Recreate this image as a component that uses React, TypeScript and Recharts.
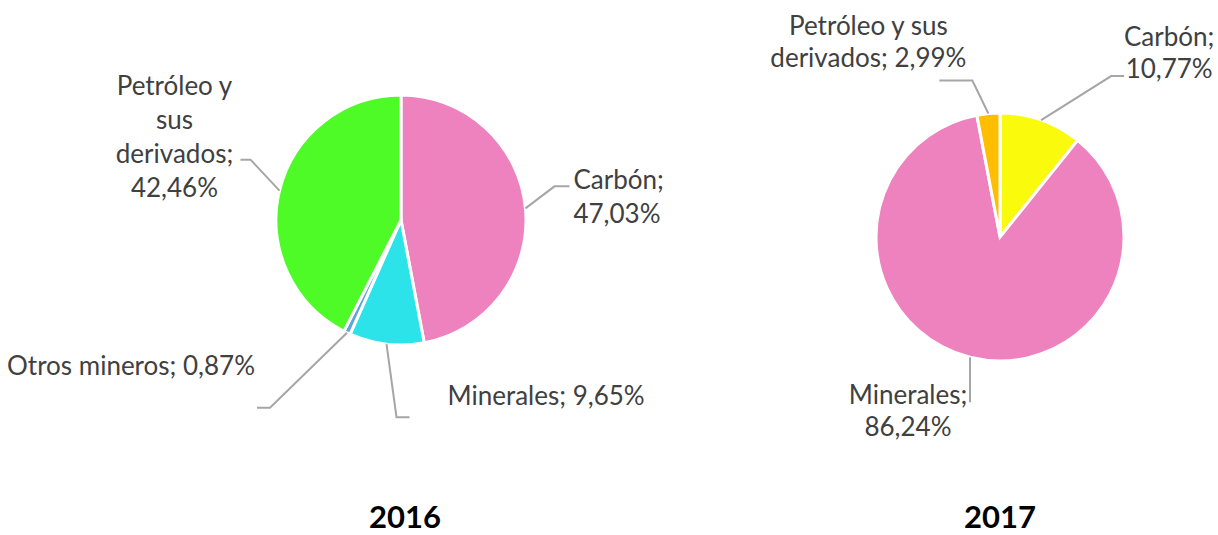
import { PieChart, Pie, Cell } from "recharts";

const categories2016 = ["Carbón", "Minerales", "Otros mineros", "Petróleo y sus derivados"];
const shares2016 = [47.03, 9.65, 0.87, 42.46];
const colors2016 = ["#EE82BE", "#2CE3E9", "#5BA6DC", "#4EFB27"];

const categories2017 = ["Carbón", "Minerales", "Petróleo y sus derivados"];
const shares2017 = [10.77, 86.24, 2.99];
const colors2017 = ["#FAFA0C", "#EE82BE", "#FFBF00"];

const years = ["2016", "2017"];

const data2016 = categories2016.map((name, i) => ({ name, value: shares2016[i] }));
const data2017 = categories2017.map((name, i) => ({ name, value: shares2017[i] }));

type Callout = {
    bend: [number, number];
    tail: number;
    tx: number;
    ty: number;
    anchor: "start" | "middle" | "end";
    lines: (n: string, p: string) => string[];
};

// where each label sits relative to the point on the slice edge
const callouts2016: Record<string, Callout> = {
    "Carbón": { bend: [29, -22], tail: 15, tx: 4, ty: -7, anchor: "start", lines: (n, p) => [n + ";", p] },
    "Minerales": { bend: [10, 73], tail: 13, tx: 38, ty: -22, anchor: "start", lines: (n, p) => [`${n}; ${p}`] },
    "Otros mineros": { bend: [-77, 75], tail: -13, tx: -2, ty: -43, anchor: "end", lines: (n, p) => [`${n}; ${p}`] },
    "Petróleo y sus derivados": {
        bend: [-29, -31], tail: -10, tx: -66, ty: -75, anchor: "middle",
        lines: (_n, p) => ["Petróleo y", "sus", "derivados;", p],
    },
};

const callouts2017: Record<string, Callout> = {
    "Carbón": { bend: [70, -44], tail: 13, tx: 45, ty: -40, anchor: "middle", lines: (n, p) => [n + ";", p] },
    "Minerales": { bend: [0, 45], tail: 0, tx: -62, ty: -8, anchor: "middle", lines: (n, p) => [n + ";", p] },
    "Petróleo y sus derivados": {
        bend: [-16, -33], tail: -33, tx: -71, ty: -56, anchor: "middle",
        lines: (_n, p) => ["Petróleo y sus", "derivados; " + p],
    },
};

const RAD = Math.PI / 180;
const fmt = (v: number) => v.toFixed(2).replace(".", ",") + "%";

const makeLabel = (callouts: Record<string, Callout>, lineH: number) => (props: any) => {
    const { cx, cy, midAngle, outerRadius, name, value } = props;
    const c = callouts[name];
    if (!c) return null;
    const ex = cx + outerRadius * Math.cos(-midAngle * RAD);
    const ey = cy + outerRadius * Math.sin(-midAngle * RAD);
    const bx = ex + c.bend[0];
    const by = ey + c.bend[1];
    const endX = bx + c.tail;
    const lines = c.lines(name, fmt(value));
    return (
        <g>
            <polyline
                points={`${ex},${ey} ${bx},${by} ${endX},${by}`}
                fill="none"
                stroke="#A6A6A6"
                strokeWidth={2}
            />
            <text
                x={endX + c.tx}
                y={by + c.ty}
                textAnchor={c.anchor}
                fill="#404040"
                fontSize={26}
                fontFamily="Lato, sans-serif"
            >
                {lines.map((l, i) => (
                    <tspan key={i} x={endX + c.tx} y={by + c.ty + i * lineH} dominantBaseline="central">
                        {l}
                    </tspan>
                ))}
            </text>
        </g>
    );
};

const titleStyle = (left: number): React.CSSProperties => ({
    position: "absolute",
    left: left - 60,
    width: 120,
    top: 501,
    textAlign: "center",
    fontFamily: "Lato, sans-serif",
    fontWeight: 700,
    fontSize: 31,
    lineHeight: "30px",
    color: "#000",
});

export default function App() {
    return (
        <div style={{ position: "fixed", left: 0, top: 0, width: 1218, height: 535, background: "#fff" }}>
            <PieChart width={1218} height={535} margin={{ top: 0, right: 0, bottom: 0, left: 0 }}>
                <Pie
                    data={data2016}
                    dataKey="value"
                    nameKey="name"
                    cx={401}
                    cy={220}
                    outerRadius={125}
                    startAngle={90}
                    endAngle={-270}
                    stroke="#fff"
                    strokeWidth={3}
                    labelLine={false}
                    label={makeLabel(callouts2016, 34)}
                    isAnimationActive={false}
                >
                    {data2016.map((d, i) => (
                        <Cell key={d.name} fill={colors2016[i]} />
                    ))}
                </Pie>
                <Pie
                    data={data2017}
                    dataKey="value"
                    nameKey="name"
                    cx={1000}
                    cy={237}
                    outerRadius={124}
                    startAngle={90}
                    endAngle={-270}
                    stroke="#fff"
                    strokeWidth={3}
                    labelLine={false}
                    label={makeLabel(callouts2017, 32)}
                    isAnimationActive={false}
                >
                    {data2017.map((d, i) => (
                        <Cell key={d.name} fill={colors2017[i]} />
                    ))}
                </Pie>
            </PieChart>
            <div style={titleStyle(405)}>{years[0]}</div>
            <div style={titleStyle(1000)}>{years[1]}</div>
        </div>
    );
}
